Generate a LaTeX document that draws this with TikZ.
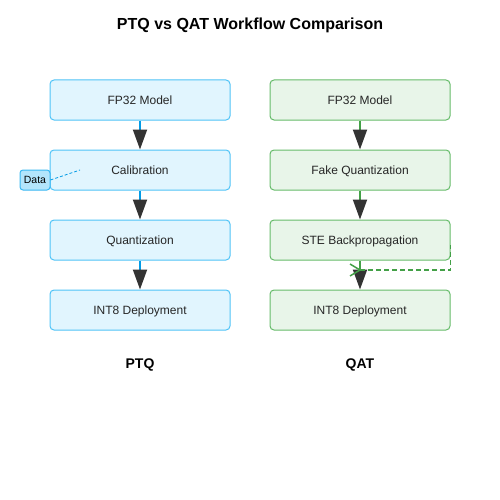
\documentclass[tikz,border=0pt]{standalone}
\usepackage{fontspec}
\setmainfont{Liberation Sans}
\usetikzlibrary{arrows.meta}
\definecolor{bfill}{HTML}{E1F5FE}
\definecolor{bdraw}{HTML}{4FC3F7}
\definecolor{bline}{HTML}{039BE5}
\definecolor{gfill}{HTML}{E8F5E9}
\definecolor{gdraw}{HTML}{66BB6A}
\definecolor{gline}{HTML}{43A047}
\definecolor{dfill}{HTML}{B3E5FC}
\definecolor{headc}{HTML}{333333}
\begin{document}
\begin{tikzpicture}[x=1pt,y=-1pt,
  ptqbox/.style={draw=bdraw,fill=bfill,line width=1pt,rounded corners=4pt,minimum width=180pt,minimum height=40pt,inner sep=0pt,text height=10.5pt,text depth=1.5pt,font=\fontsize{12}{14}\selectfont,text=black!85},
  qatbox/.style={ptqbox,draw=gdraw,fill=gfill},
  flowb/.style={line width=2pt,draw=bline,-{Triangle[length=20pt,width=14pt,fill=headc,color=headc]}},
  flowg/.style={flowb,draw=gline},
  lbl/.style={font=\bfseries\fontsize{14}{16}\selectfont},
]
\useasboundingbox (0,0) rectangle (500,500);
\node[font=\bfseries\fontsize{16}{19}\selectfont] (title) at (250,25) {PTQ vs QAT Workflow Comparison};
\node[ptqbox] (p1) at (140,100) {FP32 Model};
\node[ptqbox] (p2) at (140,170) {Calibration};
\node[ptqbox] (p3) at (140,240) {Quantization};
\node[ptqbox] (p4) at (140,310) {INT8 Deployment};
\node[qatbox] (q1) at (360,100) {FP32 Model};
\node[qatbox] (q2) at (360,170) {Fake Quantization};
\node[qatbox] (q3) at (360,240) {STE Backpropagation};
\node[qatbox] (q4) at (360,310) {INT8 Deployment};
\node[draw=bdraw!70!bline,fill=dfill,line width=1pt,rounded corners=3pt,minimum width=30pt,minimum height=20pt,inner sep=0pt,font=\fontsize{10.5}{12}\selectfont] (data) at (35,180) {Data};
\coordinate (dataend) at (80,170);
\draw[bline,line width=0.8pt,dash pattern=on 3pt off 2pt] (data.east) -- (dataend);
\draw[flowb] (p1) -- (p2);
\draw[flowb] (p2) -- (p3);
\draw[flowb] (p3) -- (p4);
\draw[flowg] (q1) -- (q2);
\draw[flowg] (q2) -- (q3);
\draw[flowg] (q3) -- (q4);
\coordinate (fbend) at (360,270);
\draw[gline,line width=1.5pt,dash pattern=on 5pt off 3pt] (fbend) -| ([yshift=-5pt]q3.east);
\draw[gline,line width=1.5pt] ([shift={(-10pt,-6pt)}]fbend) -- (fbend) -- ([shift={(-10pt,6pt)}]fbend);
\node[lbl] (lp) at (140,365) {PTQ};
\node[lbl] (lq) at (360,365) {QAT};
\end{tikzpicture}
\end{document}
